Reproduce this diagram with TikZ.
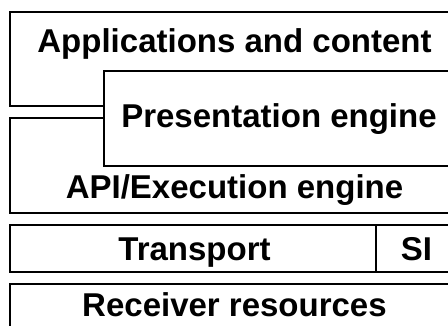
\documentclass[tikz,border=0pt]{standalone}
\usepackage{fontspec}
\setmainfont{Liberation Sans}
\begin{document}
\begin{tikzpicture}[x=1pt,y=-1pt,
  box/.style={draw=black, line width=1.1pt, fill=white, rectangle, inner sep=0pt, outer sep=0pt, anchor=north west},
  lbl/.style={font=\fontsize{33}{36}\selectfont\bfseries, anchor=base, inner sep=0pt}]
\useasboundingbox (0,0) rectangle (448,325);
\clip (0,0) rectangle (448,325);
% boxes
\node[box, minimum width=450pt, minimum height=94pt] (app) at (10,12) {};
\node[box, minimum width=450pt, minimum height=95pt] (api) at (10,118) {};
\node[box, minimum width=356pt, minimum height=95pt] (pres) at (104,71) {};
\node[box, minimum width=366pt, minimum height=47pt] (trans) at (10,225) {};
\node[box, minimum width=84pt, minimum height=47pt] (si) at (376,225) {};
\node[box, minimum width=450pt, minimum height=60pt] (recv) at (10,284) {};
% labels
\node[lbl] (appl) at (234.5,52) {Applications and content};
\node[lbl] (presl) at (279,127) {Presentation engine};
\node[lbl] (apil) at (234.5,198) {API/Execution engine};
\node[lbl] (transl) at (194.5,260) {Transport};
\node[lbl] (sil) at (416.5,260) {SI};
\node[lbl] (recvl) at (234.5,316) {Receiver resources};
\end{tikzpicture}
\end{document}
